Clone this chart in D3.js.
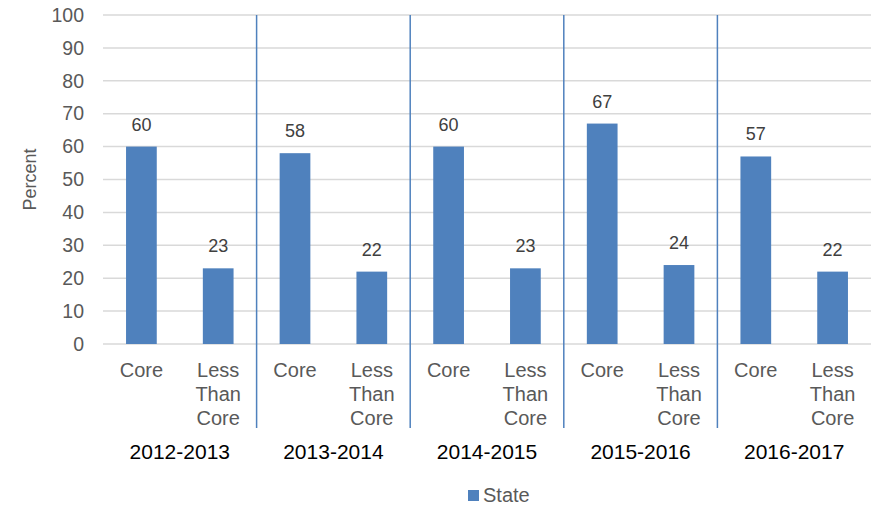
<!DOCTYPE html>
<html>
<head>
<meta charset="utf-8">
<script src="https://cdn.jsdelivr.net/npm/d3@7"></script>
<style>
  body { margin: 0; background: #fff; }
  text { font-family: "Liberation Sans", Arial, sans-serif; }
</style>
</head>
<body>
<div id="chart"></div>
<script>
var years = ["2012-2013", "2013-2014", "2014-2015", "2015-2016", "2016-2017"];
var categories = ["Core", "Less Than Core"];
var stateCore = [60, 58, 60, 67, 57];
var stateLess = [23, 22, 23, 24, 22];
var yTicks = [0, 10, 20, 30, 40, 50, 60, 70, 80, 90, 100];

var width = 872, height = 506;
var plotLeft = 103, plotRight = 871, plotTop = 15, plotBottom = 344;
var barColor = "#4f81bd";

var data = [];
years.forEach(function(y, i) {
  data.push({ year: y, cat: categories[0], value: stateCore[i] });
  data.push({ year: y, cat: categories[1], value: stateLess[i] });
});

var svg = d3.select("#chart").append("svg")
  .attr("width", width)
  .attr("height", height);

var x0 = d3.scaleBand().domain(years).range([plotLeft, plotRight]);
var x1 = d3.scaleBand().domain(categories).range([0, x0.bandwidth()]).paddingInner(0.6).paddingOuter(0.3);
var y = d3.scaleLinear().domain([0, 100]).range([plotBottom, plotTop]);

/* grid */
svg.append("g")
  .selectAll("line")
  .data(yTicks).enter()
  .append("line")
  .attr("x1", plotLeft).attr("x2", plotRight)
  .attr("y1", d => y(d)).attr("y2", d => y(d))
  .attr("stroke", "#d9d9d9")
  .attr("stroke-width", 1.5);

/* y tick labels */
var yAxis = d3.axisLeft(y).tickValues(yTicks).tickSize(0).tickPadding(19);
var ya = svg.append("g")
  .attr("transform", `translate(${plotLeft}, 0)`)
  .call(yAxis);
ya.select(".domain").remove();
ya.selectAll("text")
  .style("font-size", "19.5px")
  .style("font-family", "'Liberation Sans', Arial, sans-serif")
  .attr("fill", "#595959");

svg.append("text")
  .attr("transform", `translate(36, ${(plotTop + plotBottom) / 2}) rotate(-90)`)
  .attr("text-anchor", "middle")
  .style("font-size", "18px")
  .attr("fill", "#595959")
  .text("Percent");

/* separators */
svg.append("g")
  .selectAll("line")
  .data(years.slice(1)).enter()
  .append("line")
  .attr("x1", d => x0(d)).attr("x2", d => x0(d))
  .attr("y1", plotTop).attr("y2", 428)
  .attr("stroke", barColor)
  .attr("stroke-width", 1.5);

/* bars */
svg.append("g")
  .selectAll("rect")
  .data(data).enter()
  .append("rect")
  .attr("x", d => x0(d.year) + x1(d.cat))
  .attr("y", d => y(d.value))
  .attr("width", x1.bandwidth())
  .attr("height", d => y(0) - y(d.value))
  .attr("fill", barColor);

/* value labels */
svg.append("g")
  .selectAll("text")
  .data(data).enter()
  .append("text")
  .attr("x", d => x0(d.year) + x1(d.cat) + x1.bandwidth() / 2)
  .attr("y", d => y(d.value) - 16)
  .attr("text-anchor", "middle")
  .style("font-size", "18px")
  .attr("fill", "#404040")
  .text(d => d.value);

/* category labels */
var catLabels = svg.append("g")
  .selectAll("text")
  .data(data).enter()
  .append("text")
  .attr("x", d => x0(d.year) + x1(d.cat) + x1.bandwidth() / 2)
  .attr("y", 377)
  .attr("text-anchor", "middle")
  .style("font-size", "20px")
  .attr("fill", "#595959");

catLabels.selectAll("tspan")
  .data(d => d.cat.split(" ").map(w => ({ w: w, x: x0(d.year) + x1(d.cat) + x1.bandwidth() / 2 })))
  .enter()
  .append("tspan")
  .attr("x", t => t.x)
  .attr("dy", (t, i) => i === 0 ? 0 : 24)
  .text(t => t.w);

/* year labels */
svg.append("g")
  .selectAll("text")
  .data(years).enter()
  .append("text")
  .attr("x", d => x0(d) + x0.bandwidth() / 2)
  .attr("y", 459)
  .attr("text-anchor", "middle")
  .style("font-size", "21px")
  .attr("fill", "#000")
  .text(d => d);

/* legend */
var legend = svg.append("g").attr("transform", "translate(468, 490)");
legend.append("rect")
  .attr("width", 11).attr("height", 11)
  .attr("fill", barColor);
legend.append("text")
  .attr("x", 15).attr("y", 12)
  .style("font-size", "20px")
  .attr("fill", "#595959")
  .text("State");
</script>
</body>
</html>
